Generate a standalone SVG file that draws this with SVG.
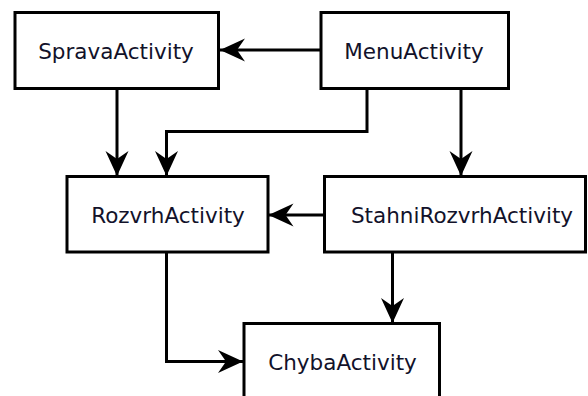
<svg xmlns="http://www.w3.org/2000/svg" width="588" height="396" viewBox="0 0 588 396">
  <style>
    .box { fill: #ffffff; stroke: #000000; stroke-width: 3; }
    .label { font-family: "DejaVu Sans", Verdana, sans-serif; font-size: 21.5px; fill: #12122a; text-anchor: middle; }
    .edge { fill: none; stroke: #000000; stroke-width: 3; marker-end: url(#arrow); }
  </style>
  <defs>
    <!-- notched arrowhead, tip at the path end -->
    <marker id="arrow" markerUnits="userSpaceOnUse" viewBox="-26 -12 27 24" refX="0" refY="0" markerWidth="27" markerHeight="24" orient="auto">
      <path d="M0,0 L-25,-11.5 L-17,0 L-25,11.5 Z" fill="#000000"/>
    </marker>
  </defs>
  <rect width="588" height="396" fill="#ffffff"/>

  <g id="connectors">
    <!-- MenuActivity -> SpravaActivity -->
    <path class="edge" d="M321,50 L220,50"/>
    <!-- SpravaActivity -> RozvrhActivity -->
    <path class="edge" d="M117,88 L117,176"/>
    <!-- MenuActivity -> RozvrhActivity -->
    <path class="edge" d="M367,88 L367,131.5 L166.5,131.5 L166.5,176"/>
    <!-- MenuActivity -> StahniRozvrhActivity -->
    <path class="edge" d="M461,88 L461,176"/>
    <!-- StahniRozvrhActivity -> RozvrhActivity -->
    <path class="edge" d="M324.5,215 L268.5,215"/>
    <!-- StahniRozvrhActivity -> ChybaActivity -->
    <path class="edge" d="M392.5,252 L392.5,323"/>
    <!-- RozvrhActivity -> ChybaActivity -->
    <path class="edge" d="M166.5,252 L166.5,361.5 L243,361.5"/>
  </g>

  <g id="SpravaActivity">
    <rect class="box" x="15" y="12.5" width="203.5" height="76"/>
    <text class="label" x="116" y="59">SpravaActivity</text>
  </g>
  <g id="MenuActivity">
    <rect class="box" x="321" y="12.5" width="187.5" height="76"/>
    <text class="label" x="414" y="59">MenuActivity</text>
  </g>
  <g id="RozvrhActivity">
    <rect class="box" x="67" y="176.5" width="201" height="75.5"/>
    <text class="label" x="168" y="223">RozvrhActivity</text>
  </g>
  <g id="StahniRozvrhActivity">
    <rect class="box" x="324.5" y="176.5" width="261" height="75.5"/>
    <text class="label" x="462" y="223">StahniRozvrhActivity</text>
  </g>
  <g id="ChybaActivity">
    <rect class="box" x="244" y="323.5" width="195.5" height="76"/>
    <text class="label" x="342.5" y="370">ChybaActivity</text>
  </g>
</svg>
